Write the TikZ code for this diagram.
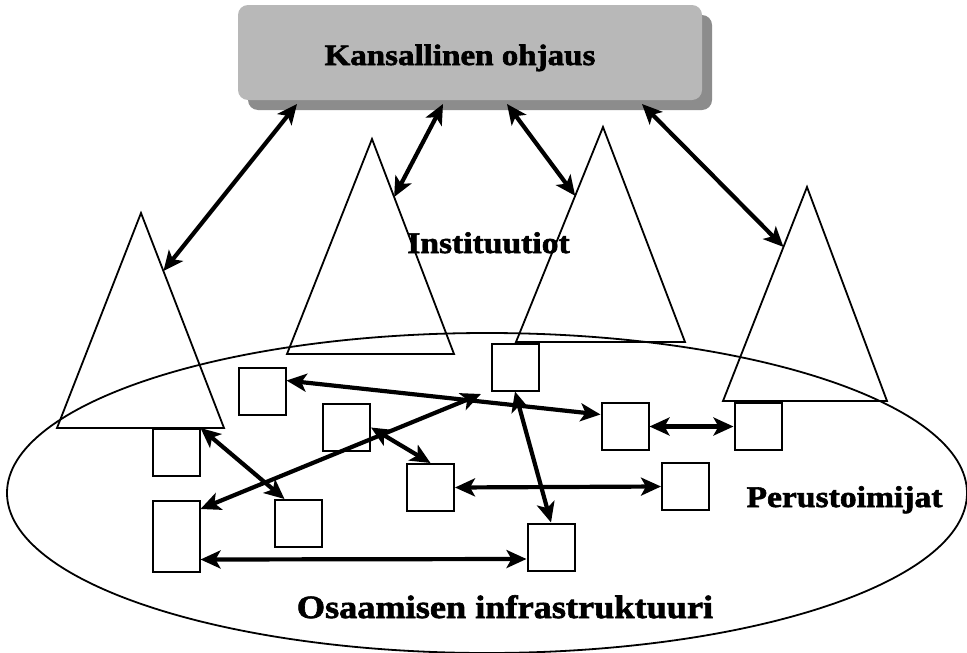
\documentclass[tikz,border=0pt]{standalone}
\usepackage{fontspec}
\setmainfont{Liberation Serif}[FakeStretch=1.12, FakeBold=2]
\usetikzlibrary{arrows.meta,calc,shadows,shapes.geometric}
\definecolor{boxface}{gray}{0.72}
\definecolor{boxshade}{gray}{0.55}
\tikzset{
  lbl/.style={font=\bfseries\fontsize{30}{32}\selectfont, anchor=base, inner sep=0pt},
  biglbl/.style={lbl, font=\bfseries\fontsize{32.4}{34}\selectfont},
  sq/.style={draw, line width=2pt, minimum width=47pt, minimum height=47pt, inner sep=0pt},
  tri/.style={draw, line width=1.8pt, line join=miter},
  topbox/.style={fill=boxface, rounded corners=10pt, minimum width=464pt, minimum height=95pt, inner sep=0pt,
    drop shadow={shadow xshift=10pt, shadow yshift=-10pt, fill=boxshade, opacity=1}},
  area/.style={draw, ellipse, line width=1.8pt, minimum width=960pt, minimum height=320pt, inner sep=0pt},
  link/.style={line width=4.2pt,
    {Stealth[length=20pt,width=18pt,inset=5pt]}-{Stealth[length=20pt,width=18pt,inset=5pt]}}
}
\begin{document}
\begin{tikzpicture}[x=1pt,y=-1pt]
\useasboundingbox[fill=white] (0,0) rectangle (967,653);

% national steering box
\node[topbox] (nat) at (470,52.5) {};
\node[lbl, font=\bfseries\fontsize{29.5}{32}\selectfont] (natlabel) at (460,65) {Kansallinen ohjaus};

% knowledge infrastructure ellipse
\node[area] (infra) at (487,493) {};

% institutions (triangles)
\coordinate (t1a) at (141,213); \coordinate (t1l) at (57,428);  \coordinate (t1r) at (224,428);
\coordinate (t2a) at (372,139); \coordinate (t2l) at (287,354); \coordinate (t2r) at (454,354);
\coordinate (t3a) at (603,127); \coordinate (t3l) at (516,342); \coordinate (t3r) at (685,342);
\coordinate (t4a) at (807,187); \coordinate (t4l) at (723,401); \coordinate (t4r) at (887,401);
\draw[tri] (t1a) -- (t1l) -- (t1r) -- cycle;
\draw[tri] (t2a) -- (t2l) -- (t2r) -- cycle;
\draw[tri] (t3a) -- (t3l) -- (t3r) -- cycle;
\draw[tri] (t4a) -- (t4l) -- (t4r) -- cycle;

% basic actors (squares)
\node[sq] (Sa) at (262,391.5) {};
\node[sq] (Sb) at (346.5,427.5) {};
\node[sq] (Sc) at (176,452.5) {};
\node[sq, minimum height=71pt] (Sd) at (176,536.5) {};
\node[sq] (Se) at (298,523.5) {};
\node[sq] (Sf) at (430.5,487.5) {};
\node[sq] (Sg) at (515,367) {};
\node[sq] (Sh) at (625,426.5) {};
\node[sq] (Si) at (758,426.5) {};
\node[sq] (Sj) at (685.5,486.5) {};
\node[sq] (Sk) at (551,547) {};

% labels
\node[lbl] (inst) at (488.5,253) {Instituutiot};
\node[lbl] (perus) at (844.5,507) {Perustoimijat};
\node[biglbl] (osaam) at (505,618) {Osaamisen infrastruktuuri};

% arrows between steering and institutions
\coordinate (n1) at (297,104);
\coordinate (n2) at (443,104);
\coordinate (n3) at (507,104);
\coordinate (n4) at (642,104);
\coordinate (p1) at ($(t1a)!0.27!(t1r)$);
\coordinate (p2) at ($(t2a)!0.27!(t2r)$);
\coordinate (p3) at ($(t3a)!0.32!(t3l)$);
\coordinate (p4) at ($(t4a)!0.28!(t4l)$);
\draw[link] (n1) -- (p1);
\draw[link] (n2) -- (p2);
\draw[link] (n3) -- (p3);
\draw[link] (n4) -- (p4);

% arrows between actors
\coordinate (g6) at (481,394);
\draw[link] ($(Sa.east)+(0,-11)$) -- ($(Sh.west)+(0,-12)$);
\draw[link] ($(Sd.north east)+(0,9)$) -- (g6);
\draw[link] (Sc.north east) -- ($(Se.north west)+(11,0)$);
\draw[link] (Sb.east) -- (Sf.north);
\draw[link] (Sf.east) -- (Sj.west);
\draw[link] (Sh.east) -- (Si.west);
\draw[link] (Sg.south) -- (Sk.north);
\draw[link] ($(Sd.east)+(0,23)$) -- ($(Sk.west)+(0,12)$);
\end{tikzpicture}
\end{document}
